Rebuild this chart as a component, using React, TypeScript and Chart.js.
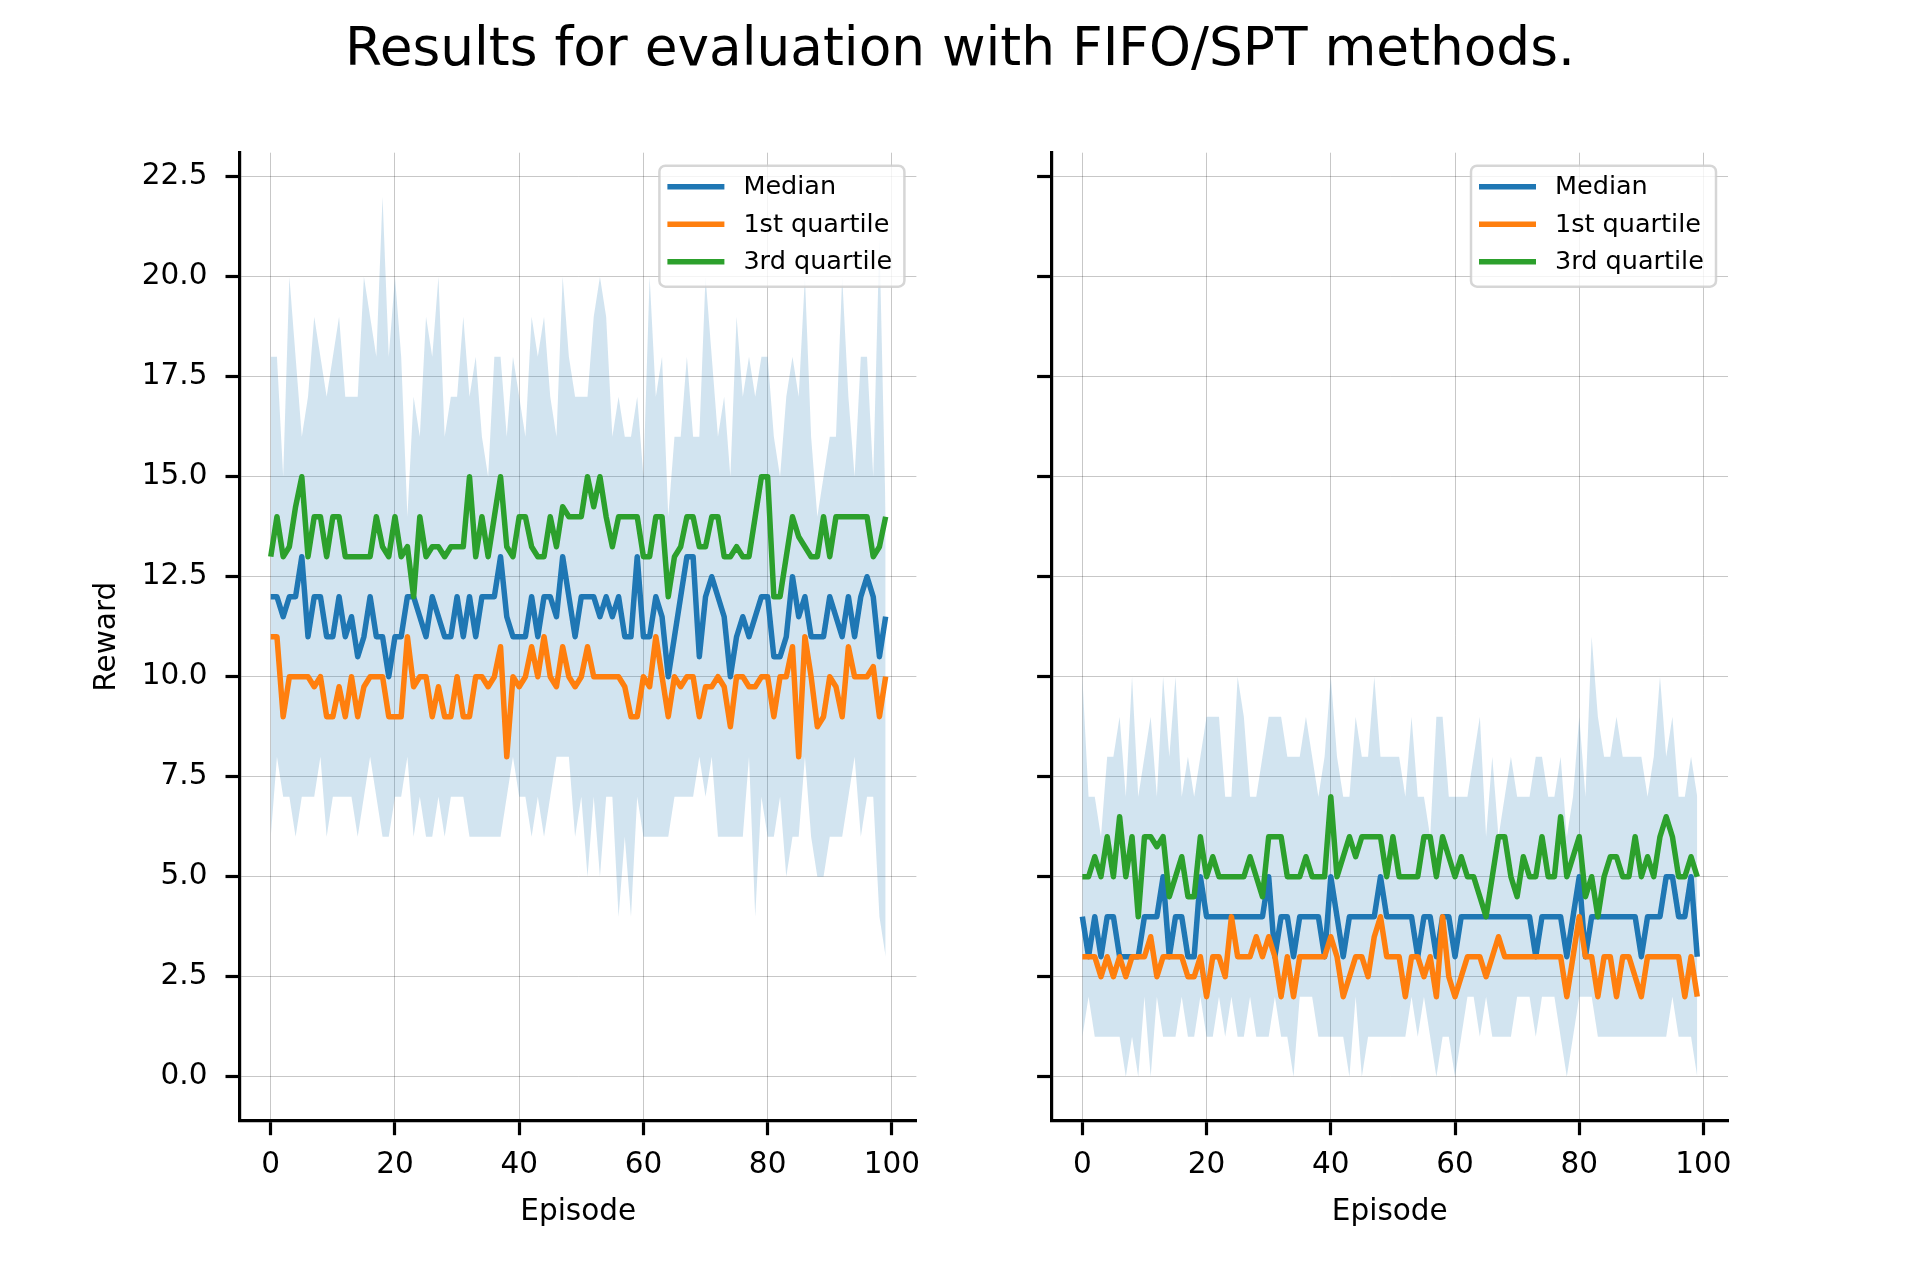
import { useEffect, useRef } from "react";
import { Chart, ChartConfiguration, Plugin } from "chart.js/auto";

// episodes 0..99 on the x axis
const EPISODES = Array.from({ length: 100 }, (_, i) => i);
const X_TICKS = [0, 20, 40, 60, 80, 100];
const Y_TICKS = [0, 2.5, 5, 7.5, 10, 12.5, 15, 17.5, 20, 22.5];

// FIFO panel (left)
const FIFO_MEDIAN = [
  12, 12, 11.5, 12, 12, 13, 11, 12, 12, 11, 11, 12, 11, 11.5, 10.5, 11, 12, 11, 11, 10,
  11, 11, 12, 12, 11.5, 11, 12, 11.5, 11, 11, 12, 11, 12, 11, 12, 12, 12, 13, 11.5, 11,
  11, 11, 12, 11, 12, 12, 11.5, 13, 12, 11, 12, 12, 12, 11.5, 12, 11.5, 12, 11, 11, 13,
  11, 11, 12, 11.5, 10, 11, 12, 13, 13, 10.5, 12, 12.5, 12, 11.5, 10, 11, 11.5, 11, 11.5, 12,
  12, 10.5, 10.5, 11, 12.5, 11.5, 12, 11, 11, 11, 12, 11.5, 11, 12, 11, 12, 12.5, 12, 10.5, 11.5,
];
const FIFO_Q1 = [
  11, 11, 9, 10, 10, 10, 10, 9.75, 10, 9, 9, 9.75, 9, 10, 9, 9.75, 10, 10, 10, 9,
  9, 9, 11, 9.75, 10, 10, 9, 9.75, 9, 9, 10, 9, 9, 10, 10, 9.75, 10, 10.75, 8, 10,
  9.75, 10, 10.75, 10, 11, 10, 9.75, 10.75, 10, 9.75, 10, 10.75, 10, 10, 10, 10, 10, 9.75, 9, 9,
  10, 9.75, 11, 10, 9, 10, 9.75, 10, 10, 9, 9.75, 9.75, 10, 9.75, 8.75, 10, 10, 9.75, 9.75, 10,
  10, 9, 10, 10, 10.75, 8, 11, 10, 8.75, 9, 10, 9.75, 9, 10.75, 10, 10, 10, 10.25, 9, 10,
];
const FIFO_Q3 = [
  13, 14, 13, 13.25, 14.25, 15, 13, 14, 14, 13, 14, 14, 13, 13, 13, 13, 13, 14, 13.25, 13,
  14, 13, 13.25, 12, 14, 13, 13.25, 13.25, 13, 13.25, 13.25, 13.25, 15, 13, 14, 13, 14, 15, 13.25, 13,
  14, 14, 13.25, 13, 13, 14, 13.25, 14.25, 14, 14, 14, 15, 14.25, 15, 14, 13.25, 14, 14, 14, 14,
  13, 13, 14, 14, 12, 13, 13.25, 14, 14, 13.25, 13.25, 14, 14, 13, 13, 13.25, 13, 13, 14, 15,
  15, 12, 12, 13, 14, 13.5, 13.25, 13, 13, 14, 13, 14, 14, 14, 14, 14, 14, 13, 13.25, 14,
];
const FIFO_MAX = [
  18, 18, 15, 20, 18, 16, 17, 19, 18, 17, 18, 19, 17, 17, 17, 20, 19, 18, 22, 18,
  20, 18, 14, 17, 16, 19, 18, 20, 16, 17, 17, 19, 17, 18, 16, 15, 18, 18, 16, 18,
  17, 16, 19, 18, 19, 17, 16, 20, 18, 17, 17, 17, 19, 20, 19, 16, 17, 16, 16, 17,
  15, 20, 17, 18, 14, 16, 16, 18, 16, 16, 20, 18, 16, 17, 15, 19, 17, 18, 17, 18,
  18, 16, 15, 17, 18, 17, 20, 16, 14, 15, 16, 16, 20, 17, 15, 18, 18, 15, 21, 14,
];
const FIFO_MIN = [
  6, 8, 7, 7, 6, 7, 7, 7, 8, 6, 7, 7, 7, 7, 6, 7, 8, 7, 6, 6,
  7, 7, 8, 6, 7, 6, 6, 7, 6, 7, 7, 7, 6, 6, 6, 6, 6, 6, 7, 8,
  7, 7, 6, 7, 6, 7, 8, 8, 8, 6, 7, 5, 7, 5, 7, 7, 4, 6, 4, 7,
  6, 6, 6, 6, 6, 7, 7, 7, 7, 8, 7, 8, 6, 6, 6, 6, 6, 8, 4, 7,
  6, 6, 7, 5, 6, 6, 8, 6, 5, 5, 6, 6, 6, 7, 8, 6, 7, 7, 4, 3,
];

// SPT panel (right)
const SPT_MEDIAN = [
  4, 3, 4, 3, 4, 4, 3, 3, 3, 3, 4, 4, 4, 5, 3, 4, 4, 3, 3, 5,
  4, 4, 4, 4, 4, 4, 4, 4, 4, 4, 5, 3, 4, 4, 3, 4, 4, 4, 4, 3,
  5, 4, 3, 4, 4, 4, 4, 4, 5, 4, 4, 4, 4, 4, 3, 4, 4, 3, 4, 4,
  3, 4, 4, 4, 4, 4, 4, 4, 4, 4, 4, 4, 4, 3, 4, 4, 4, 4, 3, 4,
  5, 3, 4, 4, 4, 4, 4, 4, 4, 4, 3, 4, 4, 4, 5, 5, 4, 4, 5, 3,
];
const SPT_Q1 = [
  3, 3, 3, 2.5, 3, 2.5, 3, 2.5, 3, 3, 3, 3.5, 2.5, 3, 3, 3, 3, 2.5, 2.5, 3,
  2, 3, 3, 2.5, 4, 3, 3, 3, 3.5, 3, 3.5, 3, 2, 3, 2, 3, 3, 3, 3, 3,
  3.5, 3, 2, 2.5, 3, 3, 2.5, 3.5, 4, 3, 3, 3, 2, 3, 3, 2.5, 3, 2, 4, 2.5,
  2, 2.5, 3, 3, 3, 2.5, 3, 3.5, 3, 3, 3, 3, 3, 3, 3, 3, 3, 3, 2, 3,
  4, 3, 3, 2, 3, 3, 2, 3, 3, 2.5, 2, 3, 3, 3, 3, 3, 3, 2, 3, 2,
];
const SPT_Q3 = [
  5, 5, 5.5, 5, 6, 5, 6.5, 5, 6, 4, 6, 6, 5.75, 6, 4.5, 5, 5.5, 4.5, 4.5, 6,
  5, 5.5, 5, 5, 5, 5, 5, 5.5, 5, 4.5, 6, 6, 6, 5, 5, 5, 5.5, 5, 5, 5,
  7, 5, 5.5, 6, 5.5, 6, 6, 6, 6, 5, 6, 5, 5, 5, 5, 6, 6, 5, 6, 5.5,
  5, 5.5, 5, 5, 4.5, 4, 5, 6, 6, 5, 4.5, 5.5, 5, 5, 6, 5, 5, 6.5, 5, 5.5,
  6, 4.5, 5, 4, 5, 5.5, 5.5, 5, 5, 6, 5, 5.5, 5, 6, 6.5, 6, 5, 5, 5.5, 5,
];
const SPT_MAX = [
  10, 7, 7, 6, 8, 8, 9, 7, 10, 7, 8, 9, 7, 10, 8, 10, 7, 8, 7, 8,
  9, 9, 9, 7, 7, 10, 9, 7, 7, 8, 9, 9, 9, 8, 8, 8, 9, 8, 7, 8,
  10, 8, 7, 7, 9, 8, 8, 10, 8, 8, 8, 8, 7, 9, 7, 7, 6, 9, 9, 7,
  7, 7, 7, 8, 9, 6, 8, 6, 7, 8, 7, 7, 7, 8, 8, 7, 7, 8, 6, 7,
  9, 7, 11, 9, 8, 8, 9, 8, 8, 8, 8, 7, 8, 10, 8, 9, 7, 7, 8, 7,
];
const SPT_MIN = [
  1, 2, 1, 1, 1, 1, 1, 0, 1, 0, 2, 0, 2, 1, 1, 1, 2, 1, 1, 2,
  1, 1, 2, 1, 2, 1, 1, 2, 1, 1, 1, 2, 1, 1, 0, 2, 2, 2, 1, 1,
  1, 1, 1, 0, 2, 0, 1, 1, 1, 1, 1, 1, 1, 2, 1, 2, 1, 0, 1, 1,
  0, 1, 2, 2, 1, 2, 1, 1, 1, 1, 2, 2, 2, 1, 2, 2, 2, 1, 0, 1,
  2, 2, 2, 1, 1, 1, 1, 1, 1, 1, 1, 1, 1, 1, 1, 2, 1, 1, 1, 0,
];

const BLUE = "#1f77b4";
const ORANGE = "#ff7f0e";
const GREEN = "#2ca02c";
const FONT = "DejaVu Sans";

// matplotlib-like legend box in the upper right corner of the axes
const legendBox: Plugin = {
  id: "legendBox",
  afterDraw(chart) {
    const { ctx, chartArea } = chart;
    const w = 245;
    const h = 121;
    const x0 = chartArea.right - 12 - w;
    const y0 = chartArea.top + 13;
    ctx.save();
    ctx.beginPath();
    ctx.roundRect(x0, y0, w, h, 6);
    ctx.fillStyle = "rgba(255,255,255,0.8)";
    ctx.fill();
    ctx.lineWidth = 2.5;
    ctx.strokeStyle = "rgba(204,204,204,0.8)";
    ctx.stroke();
    const items = chart.data.datasets.filter((d) => d.label && !d.label.startsWith("_"));
    items.forEach((d, i) => {
      const y = y0 + 21 + i * 37.5;
      ctx.beginPath();
      ctx.moveTo(x0 + 8, y);
      ctx.lineTo(x0 + 65, y);
      ctx.lineWidth = 5.5;
      ctx.strokeStyle = d.borderColor as string;
      ctx.stroke();
      ctx.fillStyle = "#000";
      ctx.font = `25.5px "${FONT}"`;
      ctx.textBaseline = "middle";
      ctx.fillText(d.label as string, x0 + 84, y + 1);
    });
    ctx.restore();
  },
};

interface PanelProps {
  median: number[];
  q1: number[];
  q3: number[];
  upper: number[];
  lower: number[];
  left: number;
  axisWidth: number;
  padRight: number;
  showYLabels: boolean;
}

function toPoints(values: number[]) {
  return values.map((v, i) => ({ x: EPISODES[i], y: v }));
}

function Panel({ median, q1, q3, upper, lower, left, axisWidth, padRight, showYLabels }: PanelProps) {
  const canvasRef = useRef<HTMLCanvasElement>(null);

  useEffect(() => {
    if (!canvasRef.current) return;
    const tickFont = { family: FONT, size: 29.5 };
    const grid = {
      color: "rgba(0,0,0,0.22)",
      lineWidth: 1,
      tickLength: 14.5,
      tickColor: "#000",
      tickWidth: 3.2,
    };
    const line = { borderWidth: 5.5, pointRadius: 0, borderJoinStyle: "round" as const };

    const config: ChartConfiguration<"line", { x: number; y: number }[]> = {
      type: "line",
      data: {
        datasets: [
          {
            label: "_max",
            data: toPoints(upper),
            borderWidth: 0,
            pointRadius: 0,
            backgroundColor: "rgba(31,119,180,0.2)",
            fill: "+1",
            order: 10,
          },
          {
            label: "_min",
            data: toPoints(lower),
            borderWidth: 0,
            pointRadius: 0,
            fill: false,
            order: 10,
          },
          { label: "Median", data: toPoints(median), borderColor: BLUE, order: 3, ...line },
          { label: "1st quartile", data: toPoints(q1), borderColor: ORANGE, order: 2, ...line },
          { label: "3rd quartile", data: toPoints(q3), borderColor: GREEN, order: 1, ...line },
        ],
      },
      options: {
        responsive: false,
        animation: false,
        events: [],
        layout: { padding: { top: 152.7, right: padRight, bottom: 0, left: 0 } },
        plugins: {
          legend: { display: false },
          tooltip: { enabled: false },
        },
        scales: {
          x: {
            type: "linear",
            min: -4.95,
            max: 103.95,
            afterBuildTicks: (s) => {
              s.ticks = X_TICKS.map((v) => ({ value: v }));
            },
            afterFit: (s) => {
              s.height = 159.3;
            },
            grid,
            border: { display: true, color: "#000", width: 3.2 },
            ticks: { color: "#000", font: tickFont, padding: 12, maxRotation: 0, autoSkip: false, callback: (v) => String(v) },
            title: { display: true, text: "Episode", color: "#000", font: tickFont, padding: { bottom: 50 } },
          },
          y: {
            type: "linear",
            min: -1.1,
            max: 23.1,
            afterBuildTicks: (s) => {
              s.ticks = Y_TICKS.map((v) => ({ value: v }));
            },
            afterFit: (s) => {
              s.width = axisWidth;
            },
            grid,
            border: { display: true, color: "#000", width: 3.2 },
            ticks: {
              color: "#000",
              font: tickFont,
              padding: 18,
              autoSkip: false,
              callback: (v) => (showYLabels ? Number(v).toFixed(1) : ""),
            },
            title: {
              display: showYLabels,
              text: "Reward",
              color: "#000",
              font: tickFont,
              padding: { top: 90 },
            },
          },
        },
      },
      plugins: [legendBox],
    };

    const chart = new Chart(canvasRef.current, config);
    return () => chart.destroy();
  }, [median, q1, q3, upper, lower, axisWidth, padRight, showYLabels]);

  return (
    <canvas
      ref={canvasRef}
      width={960}
      height={1280}
      style={{ position: "absolute", left, top: 0, width: 960, height: 1280 }}
    />
  );
}

export default function App() {
  return (
    <div style={{ position: "absolute", left: 0, top: 0, width: 1920, height: 1280, background: "#fff", overflow: "hidden" }}>
      <div
        style={{
          position: "absolute",
          top: 21,
          left: 0,
          width: 1920,
          textAlign: "center",
          fontFamily: FONT,
          fontSize: 53.3,
          lineHeight: "53px",
          color: "#000",
        }}
      >
        Results for evaluation with FIFO/SPT methods.
      </div>
      <Panel
        median={FIFO_MEDIAN}
        q1={FIFO_Q1}
        q3={FIFO_Q3}
        upper={FIFO_MAX}
        lower={FIFO_MIN}
        left={0}
        axisWidth={240}
        padRight={43.6}
        showYLabels={true}
      />
      <Panel
        median={SPT_MEDIAN}
        q1={SPT_Q1}
        q3={SPT_Q3}
        upper={SPT_MAX}
        lower={SPT_MIN}
        left={960}
        axisWidth={91.6}
        padRight={192}
        showYLabels={false}
      />
    </div>
  );
}
